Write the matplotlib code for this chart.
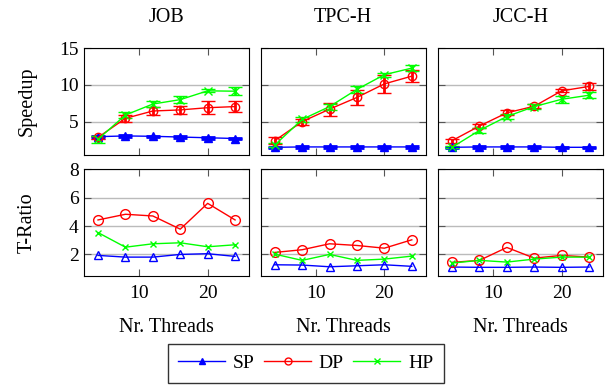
import matplotlib.pyplot as plt

plt.rcParams["font.family"] = ["Liberation Serif", "DejaVu Serif"]
plt.rcParams["font.size"] = 13

threads = [4, 8, 12, 16, 20, 24]
benchmarks = ["JOB", "TPC-H", "JCC-H"]

# speedup (top row)
speedup_sp = {
    "JOB": [2.95, 3.05, 3.0, 2.9, 2.8, 2.7],
    "TPC-H": [1.5, 1.55, 1.55, 1.55, 1.55, 1.55],
    "JCC-H": [1.5, 1.55, 1.55, 1.55, 1.5, 1.5],
}
speedup_sp_err = {
    "JOB": [0.15, 0.15, 0.1, 0.1, 0.1, 0.1],
    "TPC-H": [0.1, 0.1, 0.1, 0.1, 0.1, 0.1],
    "JCC-H": [0.1, 0.1, 0.1, 0.1, 0.1, 0.1],
}
speedup_dp = {
    "JOB": [2.85, 5.45, 6.45, 6.6, 6.9, 7.05],
    "TPC-H": [2.4, 5.0, 6.7, 8.3, 10.15, 11.2],
    "JCC-H": [2.4, 4.4, 6.2, 7.1, 9.2, 9.8],
}
speedup_dp_err = {
    "JOB": [0.2, 0.5, 0.55, 0.5, 0.9, 0.7],
    "TPC-H": [0.45, 0.4, 0.9, 1.0, 1.2, 0.8],
    "JCC-H": [0.25, 0.3, 0.35, 0.3, 0.2, 0.45],
}
speedup_hp = {
    "JOB": [2.6, 5.9, 7.4, 8.0, 9.2, 9.15],
    "TPC-H": [1.8, 5.3, 7.05, 9.4, 11.4, 12.3],
    "JCC-H": [1.5, 3.8, 5.7, 7.05, 8.05, 8.6],
}
speedup_hp_err = {
    "JOB": [0.5, 0.35, 0.45, 0.5, 0.2, 0.55],
    "TPC-H": [0.3, 0.3, 0.4, 0.45, 0.3, 0.45],
    "JCC-H": [0.15, 0.35, 0.3, 0.35, 0.45, 0.4],
}

# T-ratio (bottom row)
ratio_sp = {
    "JOB": [1.93, 1.81, 1.81, 2.0, 2.05, 1.86],
    "TPC-H": [1.27, 1.25, 1.13, 1.2, 1.27, 1.16],
    "JCC-H": [1.11, 1.09, 1.09, 1.11, 1.09, 1.11],
}
ratio_dp = {
    "JOB": [4.43, 4.83, 4.71, 3.78, 5.6, 4.43],
    "TPC-H": [2.14, 2.33, 2.75, 2.63, 2.44, 3.03],
    "JCC-H": [1.44, 1.58, 2.49, 1.74, 1.93, 1.81],
}
ratio_hp = {
    "JOB": [3.54, 2.51, 2.75, 2.82, 2.54, 2.68],
    "TPC-H": [2.02, 1.58, 2.0, 1.58, 1.67, 1.88],
    "JCC-H": [1.39, 1.58, 1.46, 1.67, 1.81, 1.81],
}

W, H = 609, 386
fig = plt.figure(figsize=(W / 100, H / 100), dpi=100)

lefts = [84.3, 261, 438.3]
width = 164.5
rows = [(48.3, 155), (169.3, 275.7)]

blue, red, green = "#0000ff", "#ff0000", "#00ff00"


def style(ax):
    ax.set_xlim(2, 26)
    ax.set_xticks([10, 20])
    ax.tick_params(direction="in", top=True, right=True, length=5,
                   width=0.8, color="#555555", labelsize=14)
    ax.tick_params(axis="x", pad=7)
    ax.tick_params(axis="y", pad=4)
    ax.grid(axis="y", color="#bbbbbb", linewidth=1)
    ax.set_axisbelow(True)
    for s in ax.spines.values():
        s.set_linewidth(0.8)


eb = dict(capsize=5, elinewidth=2, capthick=2, linewidth=1, markersize=6)

for i, b in enumerate(benchmarks):
    # top: speedup
    y0, y1 = rows[0]
    ax = fig.add_axes([lefts[i] / W, 1 - y1 / H, width / W, (y1 - y0) / H])
    ax.errorbar(threads, speedup_sp[b], yerr=speedup_sp_err[b], color=blue,
                marker="^", **eb)
    ax.errorbar(threads, speedup_dp[b], yerr=speedup_dp_err[b], color=red,
                marker="o", mfc="none", mew=1, **eb)
    ax.errorbar(threads, speedup_hp[b], yerr=speedup_hp_err[b], color=green,
                marker="x", mew=1, **eb)
    ax.set_ylim(0.45, 15)
    ax.set_yticks([5, 10, 15])
    style(ax)
    ax.set_xticklabels([])
    ax.set_title(b, fontsize=14.5, pad=19)
    if i == 0:
        ax.set_ylabel("Speedup", fontsize=14.5)
        ax.yaxis.set_label_coords(-0.29, 0.5)
    else:
        ax.set_yticklabels([])

    # bottom: T-ratio
    y0, y1 = rows[1]
    ax = fig.add_axes([lefts[i] / W, 1 - y1 / H, width / W, (y1 - y0) / H])
    ax.plot(threads, ratio_sp[b], color=blue, marker="^", mfc="none",
            mew=1, lw=1, ms=6, label="SP")
    ax.plot(threads, ratio_dp[b], color=red, marker="o", mfc="none",
            mew=1, lw=1, ms=7, label="DP")
    ax.plot(threads, ratio_hp[b], color=green, marker="x", mew=1, lw=1,
            ms=5, label="HP")
    ax.set_ylim(0.5, 8)
    ax.set_yticks([2, 4, 6, 8])
    style(ax)
    ax.set_xlabel("Nr. Threads", fontsize=14.5, labelpad=11)
    if i == 0:
        ax.set_ylabel("T-Ratio", fontsize=14.5)
        ax.yaxis.set_label_coords(-0.29, 0.5)
    else:
        ax.set_yticklabels([])

handles = [
    plt.Line2D([], [], color=blue, marker="^", ms=5, lw=1),
    plt.Line2D([], [], color=red, marker="o", mfc="none", ms=5, lw=1),
    plt.Line2D([], [], color=green, marker="x", ms=4, lw=1),
]
fig.legend(handles, ["SP", "DP", "HP"], ncol=3, loc="lower center",
           bbox_to_anchor=(0.502, 0.008), borderaxespad=0, frameon=True,
           fancybox=False, edgecolor="black", fontsize=14, handlelength=2.4,
           columnspacing=0.5, handletextpad=0.4, borderpad=0.55)

plt.savefig("out.png", dpi=100)
